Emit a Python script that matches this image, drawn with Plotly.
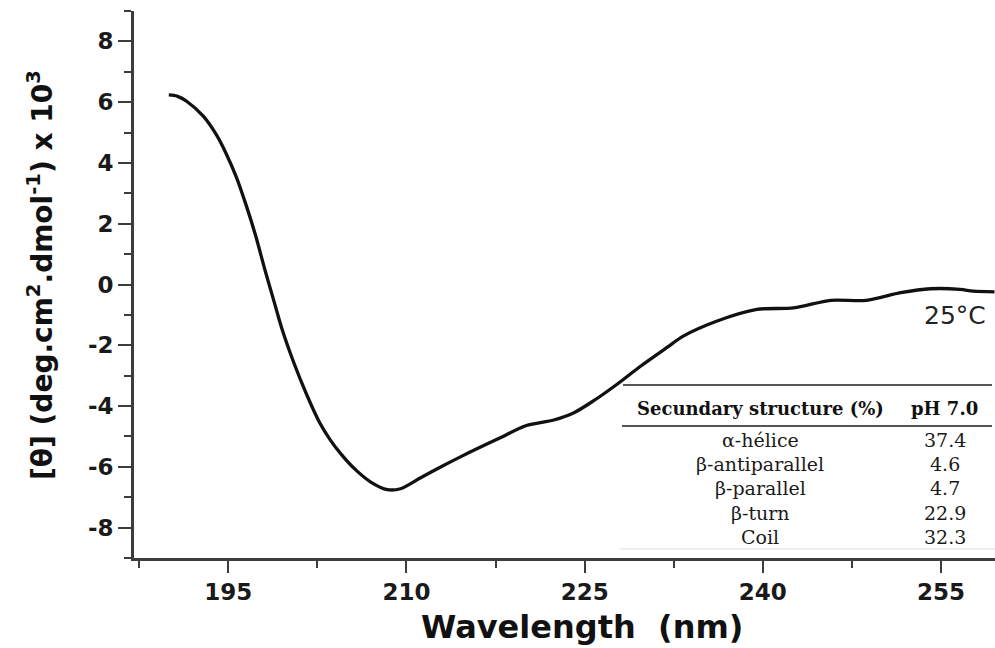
import plotly.graph_objects as go

# CD spectrum, 25 °C
wavelength = [190.0, 190.7, 191.5, 192.9, 194.0, 194.8, 195.7, 196.5, 197.3, 198.1,
              198.8, 199.5, 200.5, 201.6, 202.7, 203.6, 204.5, 205.6, 207.0, 208.4,
              209.5, 211.2, 213.0, 214.5, 215.8, 217.9, 220.1, 222.4, 224.1, 225.7,
              227.7, 229.7, 231.9, 233.3, 236.1, 239.5, 242.6, 245.7, 248.7, 251.6,
              254.1, 256.6, 257.7, 259.5]
ellipticity = [6.24, 6.20, 6.03, 5.54, 4.93, 4.33, 3.52, 2.62, 1.62, 0.47,
               -0.48, -1.43, -2.55, -3.62, -4.55, -5.12, -5.58, -6.05, -6.50, -6.75,
               -6.72, -6.36, -5.98, -5.68, -5.43, -5.04, -4.64, -4.46, -4.22, -3.84,
               -3.29, -2.69, -2.08, -1.70, -1.21, -0.82, -0.77, -0.52, -0.52, -0.27,
               -0.14, -0.16, -0.22, -0.24]

x_ticks = [195, 210, 225, 240, 255]
y_ticks = [-8, -6, -4, -2, 0, 2, 4, 6, 8]

# secondary structure table
structures = ["α-hélice", "β-antiparallel", "β-parallel", "β-turn", "Coil"]
percent_ph7 = ["37.4", "4.6", "4.7", "22.9", "32.3"]
table_header = ["Secundary structure (%)", "pH 7.0"]

W, H = 995, 648
L, R, T, B = 134, 0, 11, 90
PW, PH = W - L - R, H - T - B


def px(x):
    return (x - L) / PW


def py(y):
    return (H - B - y) / PH


fig = go.Figure()
fig.add_trace(go.Scatter(
    x=wavelength, y=ellipticity, mode="lines",
    line=dict(color="#111111", width=3.3, shape="spline", smoothing=0.8),
    showlegend=False, hoverinfo="skip"))

axis_col = "#3c3c3c"
tick_font = dict(family="DejaVu Sans", size=23, color="#1a1a1a", weight="bold")

fig.update_xaxes(
    range=[187.07, 259.54], tickvals=x_ticks, ticktext=[str(v) for v in x_ticks],
    showline=True, linecolor=axis_col, linewidth=2.6, ticks="outside", ticklen=12,
    tickwidth=2.4, tickcolor=axis_col, showgrid=False, zeroline=False,
    tickfont=tick_font,
    minor=dict(tick0=195, dtick=7.5, ticks="outside", ticklen=7, tickwidth=2.2,
               tickcolor=axis_col, showgrid=False))
fig.update_yaxes(
    range=[-9, 9], tickvals=y_ticks, ticktext=[str(v) for v in y_ticks],
    showline=True, linecolor=axis_col, linewidth=2.6, ticks="outside", ticklen=13,
    tickwidth=2.4, tickcolor=axis_col, showgrid=False, zeroline=False,
    tickfont=tick_font,
    minor=dict(tick0=0, dtick=1, ticks="outside", ticklen=7, tickwidth=2.2,
               tickcolor=axis_col, showgrid=False))

annotations = [
    dict(text="<b>Wavelength  (nm)</b>", x=px(582), y=py(627), xref="paper", yref="paper",
         showarrow=False, font=dict(family="DejaVu Sans", size=32, color="#111111"),
         xanchor="center", yanchor="middle"),
    dict(text="<b>[θ] (deg.cm<sup>2</sup>.dmol<sup>-1</sup>) x 10<sup>3</sup></b>",
         x=px(40), y=py(275), xref="paper", yref="paper", textangle=-90,
         showarrow=False, font=dict(family="DejaVu Sans", size=28, color="#111111"),
         xanchor="center", yanchor="middle"),
    dict(text="25°C", x=px(955), y=py(315), xref="paper", yref="paper",
         showarrow=False, font=dict(family="DejaVu Sans", size=25, color="#222222"),
         xanchor="center", yanchor="middle"),
    dict(text="<b>" + table_header[0] + "</b>", x=px(760), y=py(408), xref="paper",
         yref="paper", showarrow=False,
         font=dict(family="DejaVu Serif", size=18, color="#111111"),
         xanchor="center", yanchor="middle"),
    dict(text="<b>" + table_header[1] + "</b>", x=px(944), y=py(408), xref="paper",
         yref="paper", showarrow=False,
         font=dict(family="DejaVu Serif", size=18, color="#111111"),
         xanchor="center", yanchor="middle"),
]

row_y = [440, 464.3, 488.3, 513.3, 536.7]
for name, val, yy in zip(structures, percent_ph7, row_y):
    annotations.append(dict(text=name, x=px(760), y=py(yy), xref="paper", yref="paper",
                            showarrow=False,
                            font=dict(family="DejaVu Serif", size=19, color="#1a1a1a"),
                            xanchor="center", yanchor="middle"))
    annotations.append(dict(text=val, x=px(945), y=py(yy), xref="paper", yref="paper",
                            showarrow=False,
                            font=dict(family="DejaVu Serif", size=19, color="#1a1a1a"),
                            xanchor="center", yanchor="middle"))

shapes = [
    dict(type="line", xref="paper", yref="paper", x0=px(623), x1=px(992),
         y0=py(385), y1=py(385), line=dict(color="#555555", width=2)),
    dict(type="line", xref="paper", yref="paper", x0=px(622), x1=px(992),
         y0=py(426), y1=py(426), line=dict(color="#555555", width=2)),
    dict(type="line", xref="paper", yref="paper", x0=px(620), x1=px(995),
         y0=py(549), y1=py(549), line=dict(color="#dddddd", width=1)),
]

fig.update_layout(
    width=W, height=H, margin=dict(l=L, r=R, t=T, b=B, pad=0),
    paper_bgcolor="white", plot_bgcolor="white",
    annotations=annotations, shapes=shapes,
    font=dict(family="DejaVu Sans"))

fig.write_html("out.html")
